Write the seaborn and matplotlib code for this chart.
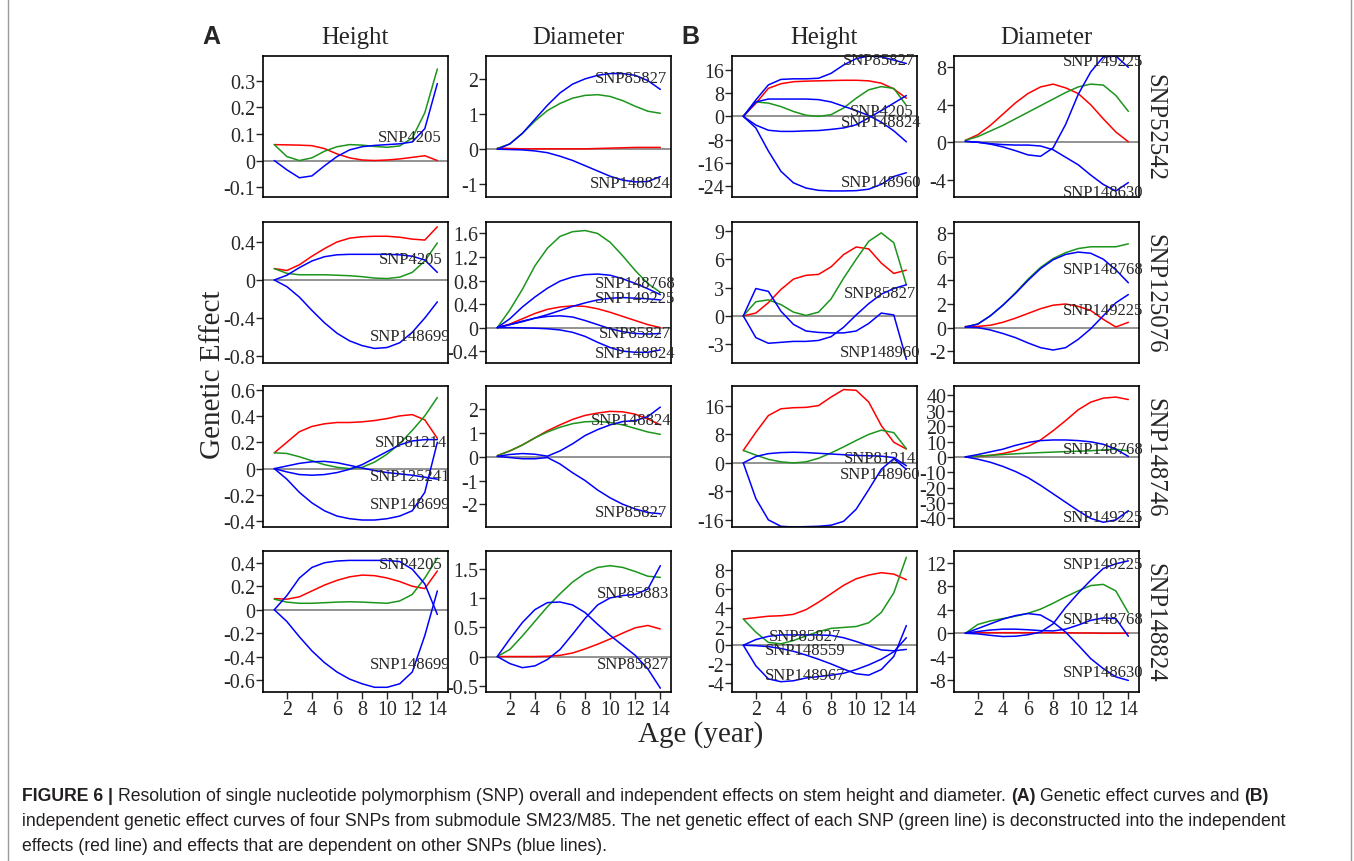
import matplotlib
matplotlib.use('Agg')
import matplotlib.pyplot as plt
from matplotlib.lines import Line2D
import seaborn as sns
import pandas as pd

age = list(range(1, 15))
age_ticks = [2, 4, 6, 8, 10, 12, 14]
row_names = ['SNP52542', 'SNP125076', 'SNP148746', 'SNP148824']
col_titles = ['Height', 'Diameter', 'Height', 'Diameter']

# ---- SNP52542 ----
a1h_green = [0.060, 0.015, 0.000, 0.010, 0.035, 0.052, 0.060, 0.058, 0.053, 0.050, 0.055, 0.085, 0.180, 0.345]
a1h_red = [0.060, 0.059, 0.058, 0.056, 0.045, 0.025, 0.010, 0.002, 0.000, 0.002, 0.006, 0.012, 0.018, 0.000]
a1h_blue = [0.000, -0.035, -0.065, -0.058, -0.020, 0.015, 0.040, 0.052, 0.057, 0.060, 0.063, 0.070, 0.120, 0.290]
a1d_green = [0.02, 0.15, 0.45, 0.80, 1.10, 1.30, 1.45, 1.53, 1.55, 1.50, 1.38, 1.22, 1.08, 1.02]
a1d_red = [0.03, 0.02, 0.01, 0.01, 0.01, 0.01, 0.01, 0.01, 0.02, 0.03, 0.04, 0.05, 0.05, 0.05]
a1d_blue1 = [0.00, 0.15, 0.45, 0.85, 1.25, 1.60, 1.85, 2.00, 2.10, 2.15, 2.15, 2.10, 1.95, 1.70]
a1d_blue2 = [0.00, -0.01, -0.02, -0.05, -0.10, -0.20, -0.32, -0.47, -0.62, -0.77, -0.88, -0.93, -0.92, -0.78]
b1h_red = [0, 4.5, 9.7, 11.3, 12.0, 12.2, 12.3, 12.4, 12.5, 12.5, 12.3, 11.5, 9.5, 6.3]
b1h_green = [0, 5.0, 4.6, 3.4, 1.7, 0.4, 0.0, 0.6, 2.9, 6.3, 9.2, 10.3, 9.7, 3.8]
b1h_blue1 = [0, 5.7, 10.9, 12.8, 13.0, 13.0, 13.2, 14.9, 17.8, 20.0, 20.9, 20.6, 19.5, 18.3]
b1h_blue2 = [0, 5.0, 6.0, 6.0, 6.0, 6.0, 5.8, 5.0, 3.5, 2.0, 0.3, -2.0, -5.0, -8.8]
b1h_blue3 = [0, -3.0, -4.8, -5.2, -5.2, -5.0, -4.9, -4.5, -4.0, -2.9, -0.5, 2.0, 4.6, 7.2]
b1h_blue4 = [0, -4.0, -12.0, -19.0, -23.0, -24.8, -25.6, -25.8, -25.8, -25.7, -25.2, -23.5, -20.8, -19.5]
b1d_red = [0.2, 0.8, 1.8, 3.0, 4.2, 5.2, 5.9, 6.2, 5.8, 5.2, 4.0, 2.5, 1.1, 0.05]
b1d_green = [0.2, 0.6, 1.2, 1.8, 2.5, 3.2, 3.9, 4.6, 5.3, 5.9, 6.2, 6.1, 5.0, 3.3]
b1d_blue1 = [0.1, 0.0, -0.2, -0.5, -0.9, -1.35, -1.5, -0.6, 1.9, 5.1, 7.5, 9.1, 9.2, 8.0]
b1d_blue2 = [0.1, 0.0, -0.15, -0.25, -0.3, -0.3, -0.4, -0.8, -1.6, -2.4, -3.5, -4.5, -5.2, -4.3]

# ---- SNP125076 ----
a2h_red = [0.12, 0.10, 0.16, 0.25, 0.33, 0.40, 0.44, 0.455, 0.46, 0.46, 0.45, 0.43, 0.42, 0.56]
a2h_blue1 = [0.0, 0.05, 0.13, 0.20, 0.245, 0.265, 0.27, 0.27, 0.27, 0.27, 0.265, 0.25, 0.21, 0.08]
a2h_green = [0.12, 0.07, 0.055, 0.055, 0.055, 0.05, 0.045, 0.035, 0.02, 0.015, 0.03, 0.08, 0.20, 0.39]
a2h_blue2 = [0.0, -0.07, -0.18, -0.32, -0.45, -0.56, -0.64, -0.69, -0.72, -0.71, -0.66, -0.55, -0.40, -0.23]
a2d_green = [0.0, 0.30, 0.65, 1.05, 1.35, 1.55, 1.63, 1.65, 1.60, 1.45, 1.22, 0.97, 0.75, 0.60]
a2d_blue1 = [0.0, 0.15, 0.35, 0.52, 0.67, 0.79, 0.86, 0.90, 0.91, 0.89, 0.83, 0.75, 0.66, 0.56]
a2d_blue2 = [0.0, 0.05, 0.10, 0.16, 0.22, 0.29, 0.36, 0.42, 0.47, 0.50, 0.51, 0.50, 0.49, 0.47]
a2d_red = [0.0, 0.06, 0.15, 0.24, 0.31, 0.35, 0.37, 0.36, 0.32, 0.26, 0.19, 0.12, 0.05, 0.0]
a2d_blue3 = [0.0, 0.05, 0.11, 0.16, 0.19, 0.20, 0.18, 0.12, 0.05, -0.02, -0.07, -0.10, -0.11, -0.10]
a2d_blue4 = [0.0, 0.0, -0.005, -0.01, -0.02, -0.04, -0.08, -0.15, -0.25, -0.34, -0.40, -0.42, -0.42, -0.38]
b2h_red = [0, 0.3, 1.4, 2.8, 3.9, 4.3, 4.4, 5.2, 6.5, 7.3, 7.1, 5.6, 4.5, 4.85]
b2h_green = [0, 1.5, 1.7, 1.2, 0.4, 0.05, 0.4, 1.8, 4.0, 6.0, 7.9, 8.8, 7.75, 3.3]
b2h_blue1 = [0, 2.9, 2.6, 0.5, -0.9, -1.6, -1.75, -1.8, -1.8, -1.6, -0.8, 0.3, 0.1, -4.6]
b2h_blue2 = [0, -2.3, -2.9, -2.8, -2.7, -2.7, -2.6, -2.2, -1.2, 0.1, 1.3, 2.3, 2.9, 3.3]
b2d_green = [0.05, 0.3, 1.0, 1.9, 2.95, 4.1, 5.1, 5.85, 6.35, 6.7, 6.85, 6.85, 6.85, 7.1]
b2d_blue1 = [0.05, 0.3, 1.0, 1.9, 2.9, 4.0, 5.0, 5.75, 6.2, 6.4, 6.3, 5.8, 4.9, 3.8]
b2d_red = [0.1, 0.1, 0.2, 0.45, 0.8, 1.2, 1.6, 1.9, 2.0, 1.8, 1.45, 0.7, 0.05, 0.45]
b2d_blue2 = [0.05, 0.0, -0.2, -0.5, -0.85, -1.3, -1.7, -1.9, -1.7, -1.0, -0.1, 1.0, 2.1, 2.8]

# ---- SNP148746 ----
a3h_red = [0.12, 0.20, 0.28, 0.32, 0.34, 0.35, 0.35, 0.355, 0.365, 0.38, 0.40, 0.41, 0.37, 0.23]
a3h_green = [0.12, 0.115, 0.09, 0.06, 0.03, 0.01, 0.0, 0.01, 0.05, 0.11, 0.19, 0.29, 0.40, 0.54]
a3h_blue1 = [0.0, -0.025, -0.045, -0.05, -0.045, -0.03, -0.005, 0.03, 0.08, 0.13, 0.18, 0.21, 0.22, 0.22]
a3h_blue2 = [0.0, 0.02, 0.04, 0.052, 0.055, 0.045, 0.025, 0.005, -0.015, -0.03, -0.04, -0.05, -0.065, -0.08]
a3h_blue3 = [0.0, -0.08, -0.18, -0.26, -0.32, -0.36, -0.38, -0.39, -0.39, -0.38, -0.36, -0.32, -0.18, 0.20]
a3d_red = [0.05, 0.25, 0.5, 0.8, 1.1, 1.35, 1.58, 1.75, 1.85, 1.92, 1.9, 1.8, 1.6, 1.35]
a3d_green = [0.05, 0.25, 0.5, 0.8, 1.05, 1.25, 1.4, 1.48, 1.5, 1.45, 1.35, 1.2, 1.05, 0.95]
a3d_blue1 = [0.02, 0.1, 0.14, 0.11, 0.03, 0.25, 0.55, 0.9, 1.15, 1.35, 1.49, 1.53, 1.7, 2.1]
a3d_blue2 = [0.02, -0.03, -0.08, -0.08, -0.03, -0.3, -0.67, -1.0, -1.4, -1.73, -2.0, -2.2, -2.35, -2.4]
b3h_red = [3.5, 8.6, 13.3, 15.2, 15.5, 15.6, 16.1, 18.5, 20.6, 20.4, 17.1, 10.5, 5.8, 3.9]
b3h_green = [3.5, 2.2, 1.0, 0.3, 0.0, 0.3, 1.3, 2.8, 4.5, 6.3, 8.0, 9.2, 8.5, 4.0]
b3h_blue1 = [0, 1.8, 2.6, 2.9, 3.0, 2.9, 2.7, 2.5, 2.3, 2.1, 2.0, 1.9, 1.5, -0.8]
b3h_blue2 = [0, -10.0, -16.0, -17.8, -18.0, -17.9, -17.8, -17.5, -16.4, -13.0, -7.5, -1.8, 1.2, -1.8]
b3d_red = [0, 0.3, 1.0, 2.2, 4.0, 6.8, 11.0, 17.0, 23.6, 30.6, 35.6, 38.2, 38.9, 37.3]
b3d_blue1 = [0, 1.5, 3.3, 5.0, 7.5, 9.4, 10.6, 11.0, 11.0, 10.6, 9.8, 8.2, 5.0, 0.3]
b3d_green = [0, 0.5, 1.0, 1.5, 2.0, 2.4, 2.8, 3.1, 3.4, 3.7, 4.0, 4.5, 5.0, 3.9]
b3d_blue2 = [0, -1.5, -3.5, -6.2, -9.5, -13.5, -18.5, -24.0, -29.5, -35.0, -40.0, -42.5, -41.0, -35.0]

# ---- SNP148824 ----
a4h_blue1 = [0.0, 0.12, 0.27, 0.36, 0.40, 0.415, 0.42, 0.42, 0.42, 0.42, 0.41, 0.345, 0.22, -0.04]
a4h_red = [0.095, 0.09, 0.11, 0.16, 0.21, 0.25, 0.28, 0.295, 0.29, 0.27, 0.24, 0.20, 0.18, 0.33]
a4h_green = [0.09, 0.065, 0.055, 0.055, 0.06, 0.065, 0.068, 0.065, 0.06, 0.055, 0.075, 0.13, 0.27, 0.44]
a4h_blue2 = [0.0, -0.10, -0.23, -0.35, -0.45, -0.53, -0.59, -0.63, -0.66, -0.66, -0.63, -0.53, -0.22, 0.16]
a4d_green = [0.0, 0.12, 0.35, 0.60, 0.85, 1.07, 1.27, 1.42, 1.52, 1.55, 1.52, 1.45, 1.37, 1.35]
a4d_blue1 = [0.0, 0.30, 0.58, 0.80, 0.92, 0.93, 0.88, 0.75, 0.55, 0.36, 0.19, 0.02, -0.21, -0.54]
a4d_blue2 = [0.0, -0.12, -0.19, -0.16, -0.05, 0.12, 0.38, 0.65, 0.88, 1.00, 1.04, 1.06, 1.15, 1.55]
a4d_red = [0.0, 0.0, 0.0, 0.0, 0.005, 0.02, 0.06, 0.13, 0.21, 0.30, 0.40, 0.49, 0.53, 0.47]
b4h_red = [2.8, 2.95, 3.1, 3.15, 3.3, 3.8, 4.6, 5.5, 6.4, 7.1, 7.5, 7.75, 7.6, 7.0]
b4h_green = [2.8, 1.4, 0.3, 0.15, 0.5, 1.0, 1.45, 1.8, 1.9, 2.0, 2.4, 3.5, 5.6, 9.4]
b4h_blue1 = [0, 0.6, 0.95, 1.1, 1.1, 1.1, 1.1, 1.05, 0.8, 0.4, -0.05, -0.5, -0.6, -0.45]
b4h_blue2 = [0, -0.05, -0.15, -0.35, -0.65, -1.05, -1.5, -2.0, -2.55, -3.05, -3.2, -2.6, -1.2, 2.1]
b4h_blue3 = [0, -2.2, -3.6, -3.9, -3.8, -3.5, -3.35, -3.2, -3.0, -2.6, -2.1, -1.5, -0.7, 0.8]
b4d_green = [0, 1.5, 2.1, 2.5, 2.9, 3.4, 4.1, 5.1, 6.2, 7.2, 8.1, 8.3, 7.2, 3.5]
b4d_blue1 = [0, -0.1, -0.35, -0.55, -0.5, -0.25, 0.2, 1.6, 4.4, 6.8, 9.0, 11.0, 11.8, 12.3]
b4d_blue2 = [0, 0.3, 0.55, 0.7, 0.7, 0.6, 0.45, 0.4, 0.7, 1.4, 2.2, 2.6, 2.5, -0.5]
b4d_blue3 = [0, 0.8, 1.6, 2.4, 3.0, 3.35, 3.1, 1.9, 0.2, -2.0, -4.3, -6.0, -7.4, -8.0]
b4d_red = [0.05, 0.1, 0.1, 0.1, 0.1, 0.1, 0.1, 0.1, 0.1, 0.05, 0.05, 0.0, 0.0, 0.0]

# y tick values per panel
a1h_ticks = [-0.1, 0, 0.1, 0.2, 0.3]
a1d_ticks = [-1, 0, 1, 2]
b1h_ticks = [-24, -16, -8, 0, 8, 16]
b1d_ticks = [-4, 0, 4, 8]
a2h_ticks = [-0.8, -0.4, 0, 0.4]
a2d_ticks = [-0.4, 0, 0.4, 0.8, 1.2, 1.6]
b2h_ticks = [-3, 0, 3, 6, 9]
b2d_ticks = [-2, 0, 2, 4, 6, 8]
a3h_ticks = [-0.4, -0.2, 0, 0.2, 0.4, 0.6]
a3d_ticks = [-2, -1, 0, 1, 2]
b3h_ticks = [-16, -8, 0, 8, 16]
b3d_ticks = [-40, -30, -20, -10, 0, 10, 20, 30, 40]
a4h_ticks = [-0.6, -0.4, -0.2, 0, 0.2, 0.4]
a4d_ticks = [-0.5, 0, 0.5, 1, 1.5]
b4h_ticks = [-4, -2, 0, 2, 4, 6, 8]
b4d_ticks = [-8, -4, 0, 4, 8, 12]

RED, GREEN, BLUE = '#ff0000', '#1c951c', '#0000ff'

panels = [
    dict(r=0, c=0, ylim=(-0.1375, 0.394), ticks=a1h_ticks,
         curves=[(a1h_red, RED), (a1h_green, GREEN), (a1h_blue, BLUE)],
         labels=[('SNP4205', 11.8, 0.088)]),
    dict(r=0, c=1, ylim=(-1.36, 2.65), ticks=a1d_ticks,
         curves=[(a1d_red, RED), (a1d_green, GREEN), (a1d_blue1, BLUE), (a1d_blue2, BLUE)],
         labels=[('SNP85827', 11.7, 2.02), ('SNP148824', 11.6, -0.95)]),
    dict(r=0, c=2, ylim=(-27.9, 20.9), ticks=b1h_ticks,
         curves=[(b1h_red, RED), (b1h_green, GREEN), (b1h_blue1, BLUE), (b1h_blue2, BLUE),
                 (b1h_blue3, BLUE), (b1h_blue4, BLUE)],
         labels=[('SNP85827', 11.8, 19.5), ('SNP4205', 12.0, 2.0),
                 ('SNP148824', 12.0, -2.0), ('SNP148960', 12.0, -22.6)]),
    dict(r=0, c=3, ylim=(-5.84, 9.2), ticks=b1d_ticks,
         curves=[(b1d_red, RED), (b1d_green, GREEN), (b1d_blue1, BLUE), (b1d_blue2, BLUE)],
         labels=[('SNP149225', 12.0, 8.7), ('SNP148630', 12.0, -5.3)]),
    dict(r=1, c=0, ylim=(-0.873, 0.61), ticks=a2h_ticks,
         curves=[(a2h_red, RED), (a2h_green, GREEN), (a2h_blue1, BLUE), (a2h_blue2, BLUE)],
         labels=[('SNP4205', 11.9, 0.225), ('SNP148699', 11.8, -0.585)]),
    dict(r=1, c=1, ylim=(-0.602, 1.795), ticks=a2d_ticks,
         curves=[(a2d_red, RED), (a2d_green, GREEN), (a2d_blue1, BLUE), (a2d_blue2, BLUE),
                 (a2d_blue3, BLUE), (a2d_blue4, BLUE)],
         labels=[('SNP148768', 12.0, 0.75), ('SNP149225', 12.0, 0.505),
                 ('SNP85827', 12.0, -0.09), ('SNP148824', 12.0, -0.43)]),
    dict(r=1, c=2, ylim=(-4.99, 9.95), ticks=b2h_ticks,
         curves=[(b2h_red, RED), (b2h_green, GREEN), (b2h_blue1, BLUE), (b2h_blue2, BLUE)],
         labels=[('SNP85827', 11.9, 2.4), ('SNP148960', 11.9, -3.85)]),
    dict(r=1, c=3, ylim=(-3.0, 8.95), ticks=b2d_ticks,
         curves=[(b2d_red, RED), (b2d_green, GREEN), (b2d_blue1, BLUE), (b2d_blue2, BLUE)],
         labels=[('SNP148768', 12.0, 5.0), ('SNP149225', 12.0, 1.45)]),
    dict(r=2, c=0, ylim=(-0.443, 0.627), ticks=a3h_ticks,
         curves=[(a3h_red, RED), (a3h_green, GREEN), (a3h_blue1, BLUE), (a3h_blue2, BLUE),
                 (a3h_blue3, BLUE)],
         labels=[('SNP81214', 11.9, 0.2), ('SNP125241', 11.8, -0.055), ('SNP148699', 11.8, -0.27)]),
    dict(r=2, c=1, ylim=(-2.96, 2.99), ticks=a3d_ticks,
         curves=[(a3d_red, RED), (a3d_green, GREEN), (a3d_blue1, BLUE), (a3d_blue2, BLUE)],
         labels=[('SNP148824', 11.7, 1.57), ('SNP85827', 11.7, -2.34)]),
    dict(r=2, c=2, ylim=(-18.0, 21.6), ticks=b3h_ticks,
         curves=[(b3h_red, RED), (b3h_green, GREEN), (b3h_blue1, BLUE), (b3h_blue2, BLUE)],
         labels=[('SNP81214', 11.9, 1.5), ('SNP148960', 11.9, -3.2)]),
    dict(r=2, c=3, ylim=(-45.6, 46.1), ticks=b3d_ticks,
         curves=[(b3d_red, RED), (b3d_green, GREEN), (b3d_blue1, BLUE), (b3d_blue2, BLUE)],
         labels=[('SNP148768', 12.0, 5.0), ('SNP149225', 12.0, -39.3)]),
    dict(r=3, c=0, ylim=(-0.7, 0.5), ticks=a4h_ticks,
         curves=[(a4h_red, RED), (a4h_green, GREEN), (a4h_blue1, BLUE), (a4h_blue2, BLUE)],
         labels=[('SNP4205', 11.9, 0.386), ('SNP148699', 11.8, -0.46)]),
    dict(r=3, c=1, ylim=(-0.605, 1.8), ticks=a4d_ticks,
         curves=[(a4d_red, RED), (a4d_green, GREEN), (a4d_blue1, BLUE), (a4d_blue2, BLUE)],
         labels=[('SNP85883', 11.8, 1.08), ('SNP85827', 11.8, -0.125)]),
    dict(r=3, c=2, ylim=(-5.0, 10.07), ticks=b4h_ticks,
         curves=[(b4h_red, RED), (b4h_green, GREEN), (b4h_blue1, BLUE), (b4h_blue2, BLUE),
                 (b4h_blue3, BLUE)],
         labels=[('SNP85827', 5.9, 1.0), ('SNP148559', 5.9, -0.55), ('SNP148967', 5.9, -3.2)]),
    dict(r=3, c=3, ylim=(-9.97, 13.97), ticks=b4d_ticks,
         curves=[(b4d_red, RED), (b4d_green, GREEN), (b4d_blue1, BLUE), (b4d_blue2, BLUE),
                 (b4d_blue3, BLUE)],
         labels=[('SNP149225', 12.0, 11.7), ('SNP148768', 12.0, 2.5), ('SNP148630', 12.0, -6.6)]),
]

W, H = 1354, 862
col_left = [263, 486, 732, 954]
row_top = [57, 223, 387, 552]
pw, ph = 185, 141

sns.set_theme(style='white')
plt.rcParams['font.family'] = ['Liberation Serif', 'DejaVu Serif']
plt.rcParams['axes.unicode_minus'] = False

fig = plt.figure(figsize=(W / 100, H / 100), dpi=100)


def fx(px):
    return px / W


def fy(py):
    return 1 - py / H


for p in panels:
    left, top = col_left[p['c']], row_top[p['r']]
    ax = fig.add_axes([fx(left), fy(top + ph), pw / W, ph / H])
    rows = []
    for k, (vals, color) in enumerate(p['curves']):
        for a, v in zip(age, vals):
            rows.append({'age': a, 'effect': v, 'curve': k})
    df = pd.DataFrame(rows)
    pal = {k: color for k, (vals, color) in enumerate(p['curves'])}
    ax.axhline(0, color='#8a8a8a', lw=1.3, zorder=1)
    sns.lineplot(data=df, x='age', y='effect', hue='curve', palette=pal,
                 estimator=None, legend=False, lw=1.1, ax=ax, zorder=2)
    for txt, x, y in p['labels']:
        ax.text(x, y, txt, fontsize=12, ha='center', va='center', clip_on=False, zorder=3)
    ax.set_xlim(0.1, 14.85)
    ax.set_ylim(*p['ylim'])
    ax.set_yticks(p['ticks'])
    ax.set_yticklabels(['{:g}'.format(t) for t in p['ticks']])
    if p['r'] == 3:
        ax.set_xticks(age_ticks)
        ax.set_xticklabels([str(t) for t in age_ticks])
        ax.tick_params(axis='x', bottom=True, direction='out', length=5, width=1,
                       pad=0.5, labelsize=14.4)
    else:
        ax.set_xticks([])
    ax.tick_params(axis='y', left=True, direction='out', length=5, width=1,
                   pad=0.5, labelsize=14.4)
    ax.set_xlabel('')
    ax.set_ylabel('')
    for s in ax.spines.values():
        s.set_color('black')
        s.set_linewidth(1.2)
    ax.set_facecolor('white')

# column titles, row names, axis titles
for c, title in enumerate(col_titles):
    fig.text(fx(col_left[c] + pw / 2), fy(38), title, fontsize=17.8, ha='center', va='center')
for r, name in enumerate(row_names):
    fig.text(fx(1154), fy(row_top[r] + ph / 2), name, fontsize=17.8, rotation=270,
             ha='center', va='center')
fig.text(fx(213), fy(375), 'Genetic Effect', fontsize=21, rotation=90, ha='center', va='center')
fig.text(fx(701), fy(735), 'Age (year)', fontsize=21, ha='center', va='center')
fig.text(fx(211), fy(37), 'A', fontsize=18, fontweight='bold', family='Liberation Sans',
         ha='center', va='center')
fig.text(fx(690), fy(37), 'B', fontsize=18, fontweight='bold', family='Liberation Sans',
         ha='center', va='center')

# page frame lines
fig.add_artist(Line2D([fx(8), fx(8)], [0, 1], color='#9a9a9a', lw=1))
fig.add_artist(Line2D([fx(1351), fx(1351)], [0, 1], color='#9a9a9a', lw=1))

# caption with bold runs
caption = [
    [('FIGURE 6 |', True),
     ('Resolution of single nucleotide polymorphism (SNP) overall and independent effects on stem height and diameter.', False),
     ('(A)', True), ('Genetic effect curves and', False), ('(B)', True)],
    [('independent genetic effect curves of four SNPs from submodule SM23/M85. The net genetic effect of each SNP (green line) is deconstructed into the independent', False)],
    [('effects (red line) and effects that are dependent on other SNPs (blue lines).', False)],
]
renderer = fig.canvas.get_renderer()


def text_width(s, size, bold):
    t = fig.text(0, 0, s, fontsize=size, fontweight='bold' if bold else 'normal',
                 family='Liberation Sans')
    w = t.get_window_extent(renderer).width
    t.remove()
    return w


def line_width(runs, size):
    sp = text_width('x x', size, False) - text_width('xx', size, False)
    return sum(text_width(s, size, b) for s, b in runs) + sp * (len(runs) - 1)


cap_size = 12 * 1253 / line_width(caption[0], 12)
space = text_width('x x', cap_size, False) - text_width('xx', cap_size, False)
for runs, yb in zip(caption, [801, 826, 851]):
    x = 22
    for s, b in runs:
        t = fig.text(fx(x), fy(yb), s, fontsize=cap_size, fontweight='bold' if b else 'normal',
                     family='Liberation Sans', ha='left', va='baseline', color='#231f20')
        x += t.get_window_extent(renderer).width + space

fig.savefig('out.png', dpi=100, facecolor='white')
